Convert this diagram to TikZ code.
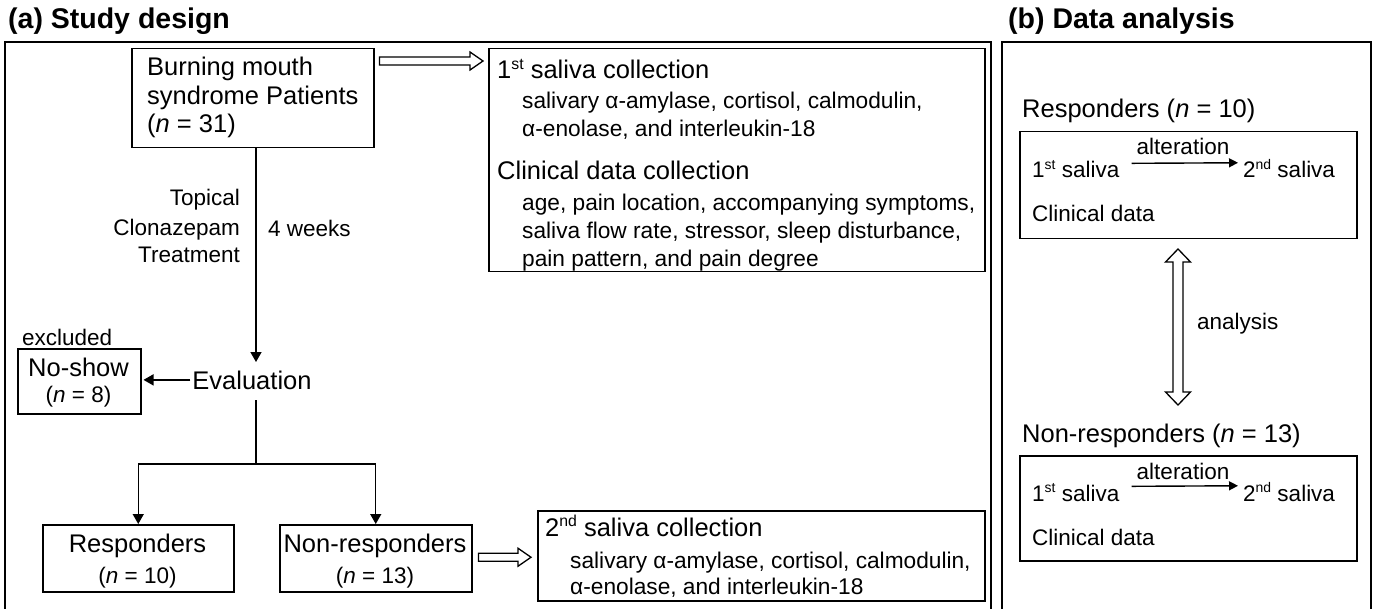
\documentclass[tikz,border=0pt]{standalone}
\usepackage{fontspec}
\setmainfont{Liberation Sans}
\usetikzlibrary{arrows.meta,calc}
\newcommand{\supr}[1]{\raisebox{0.72ex}{\scalebox{0.62}{#1}}}
\tikzset{
  panel/.style={draw, line width=1.6pt},
  box/.style={draw, line width=1.5pt, inner sep=0pt, anchor=north west},
  big/.style={font=\fontsize{25.5}{31}\selectfont, inner sep=0pt},
  small/.style={font=\fontsize{22.5}{28}\selectfont, inner sep=0pt},
  sub/.style={font=\fontsize{22.7}{28}\selectfont, inner sep=0pt},
  ttl/.style={font=\bfseries\fontsize{28.5}{32}\selectfont, inner sep=0pt},
  conn/.style={line width=1.4pt},
  tip/.style={-{Triangle[length=10pt,width=11pt]}},
  smalltip/.style={-{Triangle[length=9pt,width=9pt]}},
  hollow/.style={draw, line width=1.3pt, fill=white, line join=miter},
}
\begin{document}
\begin{tikzpicture}[x=1pt,y=-1pt]
\useasboundingbox (0,0) rectangle (1375,609);
\fill[white] (0,0) rectangle (1375,609);

% titles
\node[ttl, anchor=base west] (ta) at (8,29) {(a) Study design};
\node[ttl, anchor=base west] (tb) at (1008,29) {(b) Data analysis};

% panels
\draw[panel] (5,612) -- (5,42) -- (991,42) -- (991,612);
\draw[panel] (1002,612) -- (1002,42) -- (1371,42) -- (1371,612);

% ---- panel (a)
\node[box, minimum width=242pt, minimum height=99pt] (bms) at (131,48) {};
\node[big, anchor=base west] (bms1) at (147,76) {Burning mouth};
\node[big, anchor=base west] (bms2) at (147,105) {syndrome Patients};
\node[big, anchor=base west] (bms3) at (147,133) {(\textit{n} = 31)};

\node[box, minimum width=496pt, minimum height=223pt] (s1) at (488,48) {};
\node[big, anchor=base west] (s1a) at (497,79) {1\supr{st} saliva collection};
\node[sub, anchor=base west] (s1b) at (522,109) {salivary α-amylase, cortisol, calmodulin,};
\node[sub, anchor=base west] (s1c) at (522,137) {α-enolase, and interleukin-18};
\node[big, anchor=base west] (s1d) at (497,180) {Clinical data collection};
\node[sub, anchor=base west] (s1e) at (522,211) {age, pain location, accompanying symptoms,};
\node[sub, anchor=base west] (s1f) at (522,239) {saliva flow rate, stressor, sleep disturbance,};
\node[sub, anchor=base west] (s1g) at (522,267) {pain pattern, and pain degree};

\draw[hollow] let \p1=($(bms.north east)+(5,13)$), \p2=(s1.west) in
  (\x1,\y1+4pt) -- (\x2-18pt,\y1+4pt) -- (\x2-18pt,\y1+9pt) -- (\x2-5pt,\y1)
  -- (\x2-18pt,\y1-9pt) -- (\x2-18pt,\y1-4pt) -- (\x1,\y1-4pt) -- cycle;

\node[small, anchor=base east] (tp1) at (240,206) {Topical};
\node[small, anchor=base east] (tp2) at (240,236) {Clonazepam};
\node[small, anchor=base east] (tp3) at (240,263) {Treatment};
\node[small, anchor=base west] (wk) at (268,237) {4 weeks};

\node[big, anchor=base] (eval) at (252,389) {Evaluation};
\coordinate (evtop) at (256,362);
\draw[conn,tip] (bms.south -| evtop) -- (evtop);

\node[box, minimum width=123pt, minimum height=65pt] (noshow) at (17,348) {};
\node[big, anchor=base] (ns1) at (78.5,376) {No-show};
\node[small, anchor=base] (ns2) at (78.5,402) {(\textit{n} = 8)};
\node[small, anchor=base west] (excl) at (22,345) {excluded};
\draw[conn,tip] ($(eval.west)+(-2,0)$) -- ($(noshow.east |- eval.west)+(2,0)$);

\node[box, minimum width=191pt, minimum height=67pt] (resp) at (42,524) {};
\node[big, anchor=base] (r1) at (137.5,552) {Responders};
\node[small, anchor=base] (r2) at (137.5,583) {(\textit{n} = 10)};
\node[box, minimum width=192pt, minimum height=67pt] (nonresp) at (279,524) {};
\node[big, anchor=base] (nr1) at (375,552) {Non-responders};
\node[small, anchor=base] (nr2) at (375,583) {(\textit{n} = 13)};

\coordinate (evbot) at (256,400);
\coordinate (br) at (256,464);
\draw[conn] (evbot) -- (br);
\draw[conn,tip] (br) -| (resp.north);
\draw[conn,tip] (br) -| (nonresp.north);

\node[box, minimum width=447pt, minimum height=90pt] (s2) at (537,510) {};
\node[big, anchor=base west] (s2a) at (545,536) {2\supr{nd} saliva collection};
\node[sub, anchor=base west] (s2b) at (570,568) {salivary α-amylase, cortisol, calmodulin,};
\node[sub, anchor=base west] (s2c) at (570,594) {α-enolase, and interleukin-18};

\draw[hollow] let \p1=($(nonresp.east)+(6,-1)$), \p2=(s2.west) in
  (\x1,\y1+4pt) -- (\x2-19pt,\y1+4pt) -- (\x2-19pt,\y1+9pt) -- (\x2-6pt,\y1)
  -- (\x2-19pt,\y1-9pt) -- (\x2-19pt,\y1-4pt) -- (\x1,\y1-4pt) -- cycle;

% ---- panel (b)
\node[big, anchor=base west] (rt) at (1022,118) {Responders (\textit{n} = 10)};
\node[box, minimum width=337pt, minimum height=107pt] (rb) at (1019,131) {};
\node[small, anchor=base] (ra) at (1183,155) {alteration};
\node[small, anchor=base west] (rs1) at (1032,178) {1\supr{st} saliva};
\node[small, anchor=base west] (rs2) at (1243,178) {2\supr{nd} saliva};
\node[small, anchor=base west] (rc) at (1032,222) {Clinical data};
\draw[conn,smalltip] ($(rs1.east)+(12,-6)$) -- ($(rs2.west)+(-5,-6)$);

\node[big, anchor=base west] (nt) at (1022,442) {Non-responders (\textit{n} = 13)};
\node[box, minimum width=337pt, minimum height=105pt] (nb) at (1019,455) {};
\node[small, anchor=base] (na) at (1183,479) {alteration};
\node[small, anchor=base west] (ns1b) at (1032,501) {1\supr{st} saliva};
\node[small, anchor=base west] (ns2b) at (1243,501) {2\supr{nd} saliva};
\node[small, anchor=base west] (nc) at (1032,545) {Clinical data};
\draw[conn,smalltip] ($(ns1b.east)+(12,-6)$) -- ($(ns2b.west)+(-5,-6)$);

\coordinate (dt) at (1178,249);
\coordinate (db) at (1178,405);
\draw[hollow] let \p1=(dt), \p2=(db) in
  (\x1,\y1) -- (\x1+12.5pt,\y1-13pt) -- (\x1+5pt,\y1-13pt) -- (\x1+5pt,\y2+13pt)
  -- (\x1+12.5pt,\y2+13pt) -- (\x1,\y2) -- (\x1-12.5pt,\y2+13pt) -- (\x1-5pt,\y2+13pt)
  -- (\x1-5pt,\y1-13pt) -- (\x1-12.5pt,\y1-13pt) -- cycle;
\node[small, anchor=base west] (an) at (1197,330) {analysis};

\end{tikzpicture}
\end{document}
